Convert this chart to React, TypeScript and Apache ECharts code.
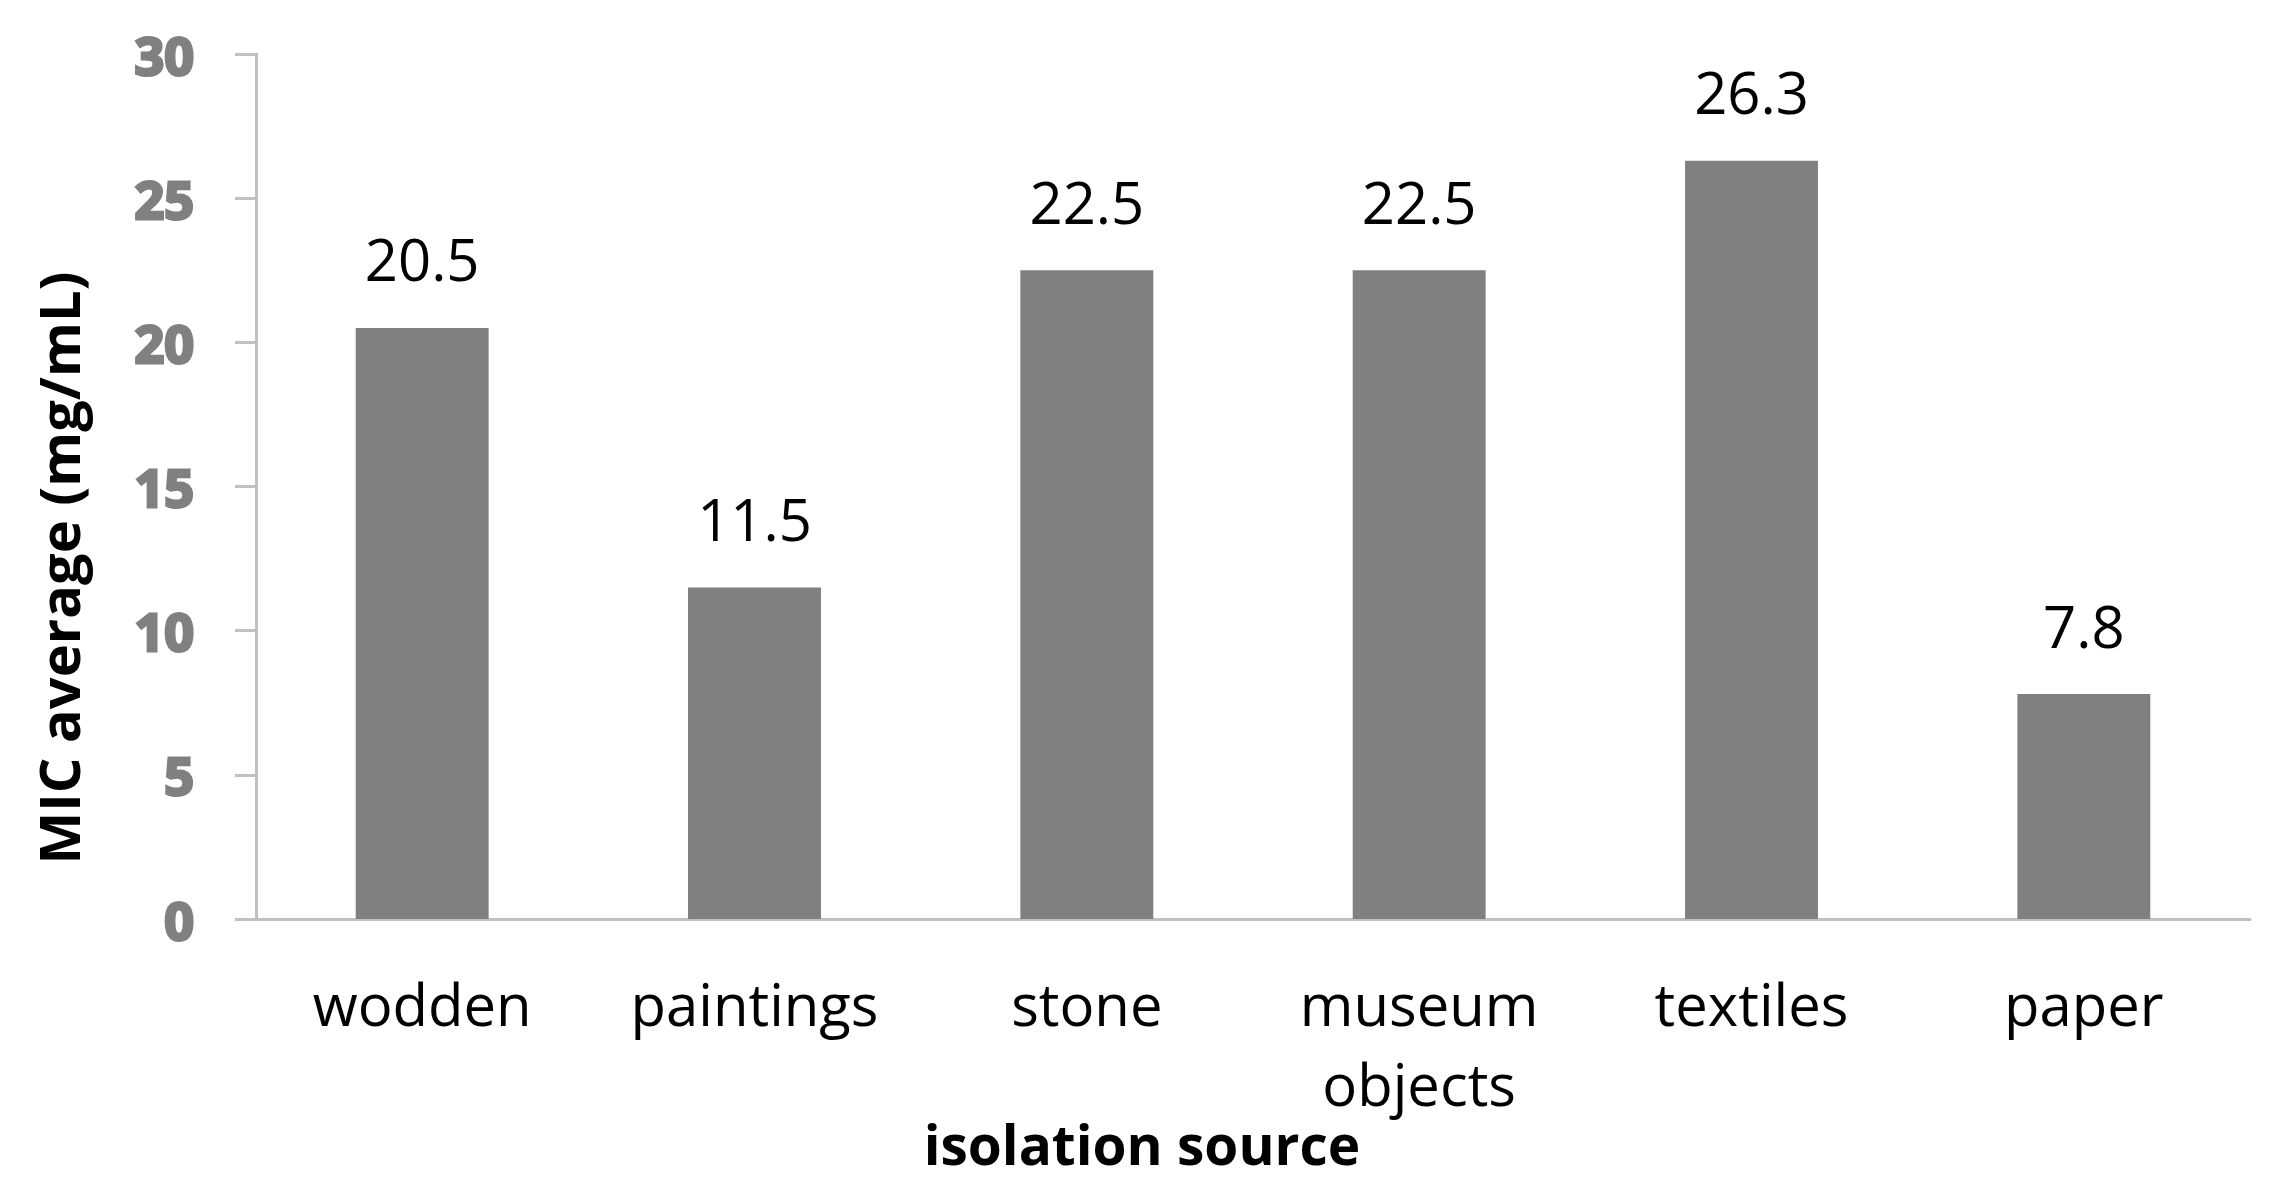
import React, { useEffect, useRef } from "react";
import * as echarts from "echarts";

const categories = ["wodden", "paintings", "stone", "museum\nobjects", "textiles", "paper"];
const micValues = [20.5, 11.5, 22.5, 22.5, 26.3, 7.8];
const yTicks = [0, 5, 10, 15, 20, 25, 30];
const yTitle = "MIC average (mg/mL)";
const xTitle = "isolation source";

const FONT = "'Open Sans', 'DejaVu Sans', sans-serif";

export default function App() {
  const ref = useRef<HTMLDivElement>(null);
  useEffect(() => {
    const chart = echarts.init(ref.current!, null, { renderer: "svg" });
    chart.setOption({
      animation: false,
      backgroundColor: "#ffffff",
      grid: { left: 248, right: 20, top: 46, bottom: 260, containLabel: false },
      xAxis: {
        type: "category",
        data: categories,
        axisLine: { show: true, lineStyle: { color: "#c0c0c0", width: 3 } },
        axisTick: { show: false },
        axisLabel: {
          color: "#000000",
          fontFamily: FONT,
          fontSize: 58,
          margin: 44,
          lineHeight: 80,
          interval: 0,
        },
      },
      yAxis: {
        type: "value",
        min: yTicks[0],
        max: yTicks[yTicks.length - 1],
        interval: 5,
        splitLine: { show: false },
        axisLine: { show: true, lineStyle: { color: "#c0c0c0", width: 3 } },
        axisTick: { show: true, length: 21, lineStyle: { color: "#c0c0c0", width: 3 } },
        axisLabel: {
          color: "#808080",
          fontFamily: FONT,
          fontWeight: "bold",
          fontSize: 52,
          margin: 62,
          textBorderColor: "#808080",
          textBorderWidth: 3,
        },
      },
      series: [
        {
          type: "bar",
          data: micValues,
          barWidth: "40%",
          itemStyle: { color: "#808080" },
          label: {
            show: true,
            position: "top",
            distance: 40,
            color: "#000000",
            fontFamily: FONT,
            fontSize: 58,
            formatter: (p: any) => String(p.value),
          },
        },
      ],
      graphic: [
        {
          type: "text",
          x: 1134,
          y: 1135,
          style: {
            text: xTitle,
            font: `bold 55px ${FONT}`,
            fill: "#000000",
            textAlign: "center",
            textVerticalAlign: "middle",
          },
        },
        {
          type: "text",
          x: 50,
          y: 560,
          rotation: Math.PI / 2,
          style: {
            text: yTitle,
            font: `bold 56px ${FONT}`,
            fill: "#000000",
            textAlign: "center",
            textVerticalAlign: "middle",
          },
        },
      ],
    });
    return () => chart.dispose();
  }, []);
  return <div ref={ref} style={{ width: 2262, height: 1171 }} />;
}
